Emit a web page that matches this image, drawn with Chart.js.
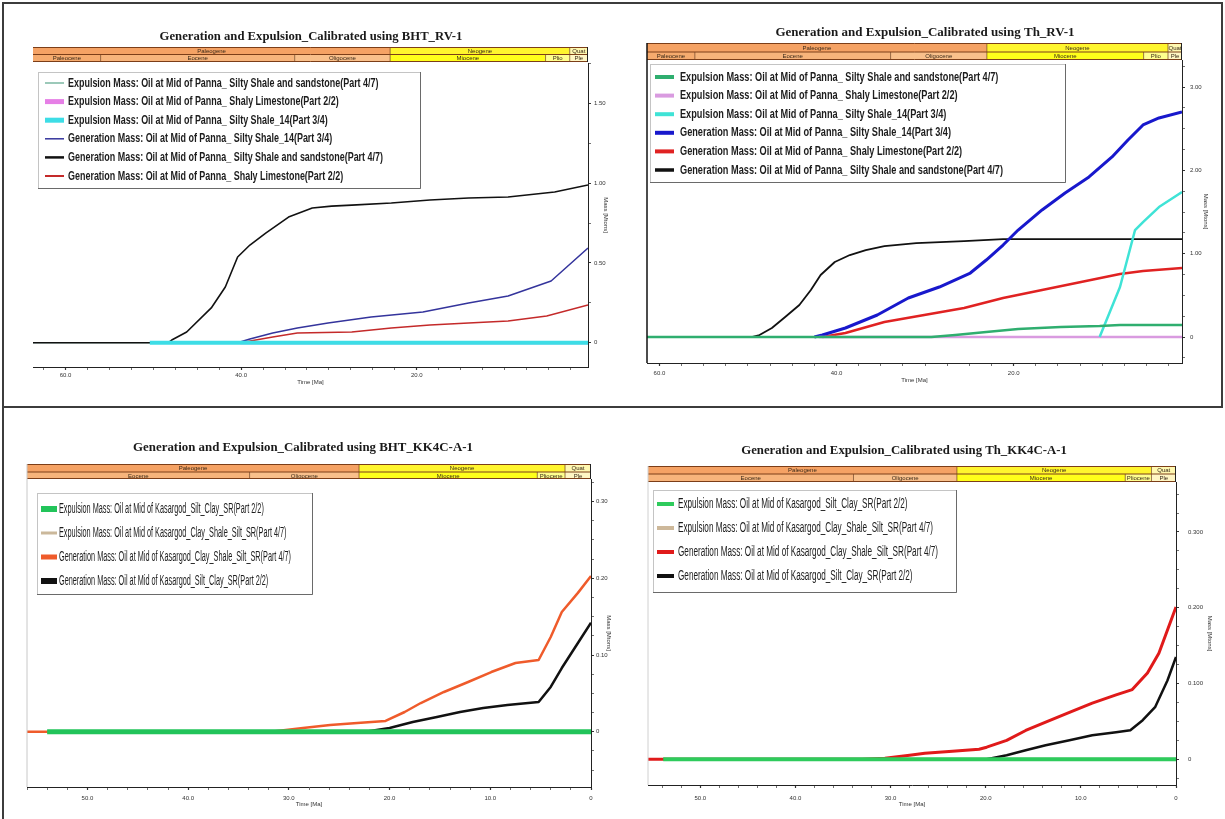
<!DOCTYPE html>
<html>
<head>
<meta charset="utf-8">
<title>Generation and Expulsion</title>
<script src="https://cdn.jsdelivr.net/npm/chart.js@4.4.1/dist/chart.umd.min.js"></script>
<style>
  html, body { margin: 0; padding: 0; background: #fff; }
  #page { position: relative; width: 1225px; height: 819px; overflow: hidden; background: #fff; }
  canvas { position: absolute; display: block; }
  .frame-top { position: absolute; left: 2px; top: 2px; width: 1221px; height: 406px; box-sizing: border-box; border: 2px solid #3c3c3c; pointer-events: none; }
  .frame-left { position: absolute; left: 2px; top: 408px; width: 2px; height: 411px; background: #3c3c3c; pointer-events: none; }
</style>
</head>
<body>
<div id="page">
  <canvas id="bhtRv1" width="612" height="408" style="left:0;top:0"></canvas>
  <canvas id="thRv1" width="613" height="408" style="left:612px;top:0"></canvas>
  <canvas id="bhtKk4c" width="612" height="411" style="left:0;top:408px"></canvas>
  <canvas id="thKk4c" width="613" height="411" style="left:612px;top:408px"></canvas>
  <div class="frame-top"></div>
  <div class="frame-left"></div>
</div>
<script>
// ---------------- Geological time scale (Ma) ----------------
const PERIOD_NAMES  = ['Paleogene', 'Neogene', 'Quaternary'];
const PERIOD_SHORT  = ['Paleog.', 'Neog.', 'Quat'];
const PERIOD_BASE   = [66.0, 23.03, 2.58];
const PERIOD_TOP    = [23.03, 2.58, 0];
const PERIOD_COLORS = ['#f5a264', '#fff52e', '#fff8b0'];

const EPOCH_NAMES  = ['Paleocene', 'Eocene', 'Oligocene', 'Miocene', 'Pliocene', 'Pleistocene'];
const EPOCH_SHORT  = ['Paleoc.', 'Eoc.', 'Olig.', 'Mio.', 'Plio', 'Ple'];
const EPOCH_BASE   = [66.0, 56.0, 33.9, 23.03, 5.333, 2.58];
const EPOCH_TOP    = [56.0, 33.9, 23.03, 5.333, 2.58, 0];
const EPOCH_COLORS = ['#f6ab6e', '#f7b47b', '#f9c08b', '#ffff1a', '#ffff8e', '#fff6c4'];

// ---------------- Panna source rocks, BHT calibration (RV-1) ----------------
const BHT_RV1_EXP_SSS_T = [63.7, 0.5];
const BHT_RV1_EXP_SSS_V = [0, 0];
const BHT_RV1_EXP_SL_T  = [40.1, 0.5];
const BHT_RV1_EXP_SL_V  = [0, 0];
const BHT_RV1_EXP_S14_T = [50.4, 0.5];
const BHT_RV1_EXP_S14_V = [0, 0];
const BHT_RV1_GEN_S14_T = [40.4, 39.0, 36.4, 33.6, 30.1, 25.2, 19.3, 14.1, 9.6, 4.7, 0.5];
const BHT_RV1_GEN_S14_V = [0, 0.023, 0.061, 0.092, 0.124, 0.161, 0.192, 0.249, 0.293, 0.387, 0.593];
const BHT_RV1_GEN_SSS_T = [63.7, 48.3, 47.9, 46.2, 43.4, 41.8, 40.4, 39.0, 37.2, 34.6, 31.9, 29.7, 27.4, 22.9, 18.5, 14.1, 9.6, 4.3, 0.5];
const BHT_RV1_GEN_SSS_V = [0, 0, 0.017, 0.067, 0.218, 0.349, 0.537, 0.612, 0.687, 0.787, 0.844, 0.856, 0.862, 0.875, 0.894, 0.907, 0.913, 0.944, 0.988];
const BHT_RV1_GEN_SL_T  = [40.1, 36.4, 33.6, 27.4, 22.9, 18.5, 14.1, 9.6, 5.2, 0.5];
const BHT_RV1_GEN_SL_V  = [0, 0.036, 0.061, 0.067, 0.092, 0.111, 0.124, 0.136, 0.167, 0.236];

// ---------------- Panna source rocks, Th calibration (RV-1) ----------------
const TH_RV1_EXP_SSS_T = [61.4, 29.3, 26.6, 23.1, 19.5, 14.7, 10.3, 8.0, 1.0];
const TH_RV1_EXP_SSS_V = [0, 0, 0.024, 0.06, 0.096, 0.12, 0.132, 0.144, 0.144];
const TH_RV1_EXP_SL_T  = [42.0, 1.0];
const TH_RV1_EXP_SL_V  = [0, 0];
const TH_RV1_EXP_S14_T = [10.3, 8.0, 6.3, 5.4, 3.6, 1.0];
const TH_RV1_EXP_S14_V = [0, 0.60, 1.284, 1.38, 1.56, 1.74];
const TH_RV1_GEN_S14_T = [42.5, 41.6, 39.0, 35.4, 31.9, 28.4, 24.9, 23.1, 21.2, 19.5, 16.8, 14.2, 11.5, 8.9, 7.1, 5.4, 3.6, 1.0];
const TH_RV1_GEN_S14_V = [0, 0.024, 0.108, 0.264, 0.468, 0.60, 0.768, 0.924, 1.104, 1.284, 1.525, 1.729, 1.921, 2.161, 2.365, 2.545, 2.629, 2.701];
const TH_RV1_GEN_SL_T  = [41.6, 39.0, 34.6, 30.1, 25.6, 21.2, 16.8, 12.4, 8.0, 5.4, 1.0];
const TH_RV1_GEN_SL_V  = [0, 0.048, 0.18, 0.264, 0.348, 0.468, 0.564, 0.66, 0.756, 0.792, 0.828];
const TH_RV1_GEN_SSS_T = [49.6, 48.7, 47.3, 45.8, 44.2, 42.9, 41.8, 40.2, 38.5, 36.7, 34.6, 31.0, 25.6, 21.2, 1.0];
const TH_RV1_GEN_SSS_V = [0, 0.024, 0.108, 0.24, 0.384, 0.564, 0.744, 0.90, 0.984, 1.044, 1.092, 1.128, 1.152, 1.176, 1.176];

// ---------------- Kasargod source rocks, BHT calibration (KK4C-A-1) ----------------
const BHT_KK_EXP_SCS_T  = [54.0, 0];
const BHT_KK_EXP_SCS_V  = [0, 0];
const BHT_KK_EXP_CSSS_T = [54.0, 0];
const BHT_KK_EXP_CSSS_V = [0, 0];
const BHT_KK_GEN_CSSS_T = [56.0, 31.8, 28.6, 25.9, 23.2, 20.4, 18.5, 16.9, 14.6, 12.2, 9.9, 7.5, 5.2, 4.0, 2.9, 1.3, 0];
const BHT_KK_GEN_CSSS_V = [0, 0, 0.0048, 0.0087, 0.0113, 0.014, 0.0257, 0.0374, 0.0518, 0.0648, 0.0778, 0.0896, 0.0935, 0.1235, 0.156, 0.181, 0.203];
const BHT_KK_GEN_SCS_T  = [22.4, 20.0, 17.7, 15.3, 13.0, 10.7, 8.3, 5.2, 4.0, 2.9, 1.3, 0];
const BHT_KK_GEN_SCS_V  = [0, 0.0048, 0.0126, 0.0192, 0.0257, 0.0309, 0.0348, 0.0387, 0.0583, 0.083, 0.1156, 0.142];

// ---------------- Kasargod source rocks, Th calibration (KK4C-A-1) ----------------
const TH_KK_EXP_SCS_T  = [53.9, 0];
const TH_KK_EXP_SCS_V  = [0, 0];
const TH_KK_EXP_CSSS_T = [53.9, 0];
const TH_KK_EXP_CSSS_V = [0, 0];
const TH_KK_GEN_CSSS_T = [55.5, 33.0, 30.6, 28.0, 26.4, 23.5, 20.7, 19.9, 17.8, 15.8, 13.7, 11.2, 8.8, 6.3, 4.6, 3.0, 1.8, 0];
const TH_KK_GEN_CSSS_V = [0, 0, 0.0013, 0.0053, 0.0079, 0.0106, 0.0132, 0.0159, 0.025, 0.038, 0.049, 0.062, 0.074, 0.085, 0.092, 0.114, 0.140, 0.201];
const TH_KK_GEN_SCS_T  = [19.9, 17.8, 15.8, 13.7, 11.2, 8.8, 6.3, 4.8, 3.5, 2.2, 0.9, 0];
const TH_KK_GEN_SCS_V  = [0, 0.0053, 0.0119, 0.0185, 0.025, 0.0317, 0.0357, 0.0383, 0.0515, 0.0687, 0.104, 0.135];

// ---------------- Axis ticks ----------------
const RV1_X_MAJOR  = [60, 40, 20];
const RV1_X_LABELS = ['60.0', '40.0', '20.0'];
const KK_X_MAJOR   = [50, 40, 30, 20, 10, 0];
const KK_X_LABELS  = ['50.0', '40.0', '30.0', '20.0', '10.0', '0'];
const BHT_RV1_Y_MAJOR  = [0, 0.5, 1.0, 1.5];
const BHT_RV1_Y_LABELS = ['0', '0.50', '1.00', '1.50'];
const TH_RV1_Y_MAJOR   = [0, 1, 2, 3];
const TH_RV1_Y_LABELS  = ['0', '1.00', '2.00', '3.00'];
const BHT_KK_Y_MAJOR   = [0, 0.1, 0.2, 0.3];
const BHT_KK_Y_LABELS  = ['0', '0.10', '0.20', '0.30'];
const TH_KK_Y_MAJOR    = [0, 0.1, 0.2, 0.3];
const TH_KK_Y_LABELS   = ['0', '0.100', '0.200', '0.300'];

const SANS = '"Liberation Sans", Arial, Helvetica, sans-serif';
const SERIF = '"Liberation Serif", "Times New Roman", Times, serif';

function pts(T, V) { return T.map((t, i) => ({ x: t, y: V[i] })); }

function series(label, T, V, color, width, legendWidth, order) {
  return {
    label, data: pts(T, V), borderColor: color, backgroundColor: color,
    borderWidth: width, legendWidth, order,
    pointRadius: 0, pointHoverRadius: 0, fill: false, tension: 0,
    borderJoinStyle: 'round', borderCapStyle: 'butt'
  };
}

function tickList(step, lo, hi, major) {
  const out = [];
  const n0 = Math.ceil(lo / step - 1e-9), n1 = Math.floor(hi / step + 1e-9);
  for (let n = n0; n <= n1; n++) out.push(+(n * step).toFixed(6));
  major.forEach(m => { if (!out.some(v => Math.abs(v - m) < 1e-6)) out.push(m); });
  return out.sort((a, b) => a - b);
}

function labelFor(v, major, labels) {
  for (let i = 0; i < major.length; i++) if (Math.abs(v - major[i]) < 1e-6) return labels[i];
  return '';
}

// Per-canvas decoration: title, stratigraphic bar, legend box, frame
const DECOR = {};

function drawStratRow(c, xs, a, y0, y1, names, shorts, base, top, colors, labelRow) {
  c.save();
  c.beginPath(); c.rect(a.left, y0, a.right - a.left, y1 - y0); c.clip();
  for (let i = 0; i < names.length; i++) {
    let xL = xs.getPixelForValue(base[i]);
    let xR = xs.getPixelForValue(top[i]);
    xL = Math.max(xL, a.left); xR = Math.min(xR, a.right);
    if (xR <= xL) continue;
    c.fillStyle = colors[i];
    c.fillRect(xL, y0, xR - xL, y1 - y0);
    if (xL > a.left + 0.5) {
      c.strokeStyle = 'rgba(105,55,20,0.85)'; c.lineWidth = 0.8;
      c.beginPath(); c.moveTo(xL, y0); c.lineTo(xL, y1); c.stroke();
    }
    c.font = '6px ' + SANS;
    c.fillStyle = '#3a2a1a'; c.textAlign = 'center'; c.textBaseline = 'middle';
    const room = xR - xL - 2;
    let txt = names[i];
    if (c.measureText(txt).width > room) txt = shorts[i];
    if (c.measureText(txt).width <= room + 3) c.fillText(txt, (xL + xR) / 2, (y0 + y1) / 2 + 0.5);
  }
  c.restore();
}

const panelDecor = {
  id: 'panelDecor',
  beforeDraw(chart) {
    const c = chart.ctx;
    c.save(); c.fillStyle = '#fff'; c.fillRect(0, 0, chart.width, chart.height); c.restore();
  },
  afterDraw(chart) {
    const d = DECOR[chart.canvas.id];
    const c = chart.ctx, a = chart.chartArea, xs = chart.scales.x;

    // title
    c.save();
    c.fillStyle = '#1a1a1a'; c.textAlign = 'center'; c.textBaseline = 'middle';
    c.font = 'bold 12px ' + SERIF;
    const fs = 12 * d.titleWidth / c.measureText(d.title).width;
    c.font = 'bold ' + fs.toFixed(2) + 'px ' + SERIF;
    c.fillText(d.title, d.titleX, d.titleY);
    c.restore();

    // stratigraphic bar
    const [s0, s1, s2] = d.strat;
    drawStratRow(c, xs, a, s0, s1, PERIOD_NAMES, PERIOD_SHORT, PERIOD_BASE, PERIOD_TOP, PERIOD_COLORS);
    drawStratRow(c, xs, a, s1, s2, EPOCH_NAMES, EPOCH_SHORT, EPOCH_BASE, EPOCH_TOP, EPOCH_COLORS);
    c.save();
    c.strokeStyle = '#7c3e18'; c.lineWidth = 1;
    c.beginPath();
    c.moveTo(a.left, s0 + 0.5); c.lineTo(a.right, s0 + 0.5);
    c.moveTo(a.left, s1); c.lineTo(a.right, s1);
    c.moveTo(a.left, s2 - 0.5); c.lineTo(a.right, s2 - 0.5);
    c.stroke();
    c.strokeStyle = '#222';
    c.beginPath(); c.moveTo(a.right - 0.5, s0); c.lineTo(a.right - 0.5, s2); c.stroke();
    c.restore();

    // plot frame
    if (d.leftLine) {
      c.save(); c.strokeStyle = d.leftLine; c.lineWidth = d.leftLineWidth || 1;
      c.beginPath(); c.moveTo(a.left, s0); c.lineTo(a.left, a.bottom); c.stroke(); c.restore();
    }

    // legend
    const L = d.legend, b = L.box;
    c.save();
    c.fillStyle = '#fff'; c.fillRect(b.x, b.y, b.w, b.h);
    c.strokeStyle = '#c4c4c4'; c.lineWidth = 1;
    c.strokeRect(b.x + 0.5, b.y + 0.5, b.w, b.h);
    c.strokeStyle = '#6a6a6a';
    c.beginPath();
    c.moveTo(b.x, b.y + b.h + 0.5); c.lineTo(b.x + b.w + 0.5, b.y + b.h + 0.5);
    c.lineTo(b.x + b.w + 0.5, b.y);
    c.stroke();
    c.font = L.font; c.textBaseline = 'middle'; c.textAlign = 'left'; c.fillStyle = '#1c1c1c';
    const ds = chart.data.datasets;
    const sx = L.textWidth / c.measureText(ds[L.fitIndex].label).width;
    ds.forEach((s, i) => {
      const y = b.y + L.first + i * L.step;
      c.strokeStyle = s.borderColor; c.lineWidth = s.legendWidth; c.lineCap = 'butt';
      c.beginPath(); c.moveTo(b.x + L.sample[0], y); c.lineTo(b.x + L.sample[1], y); c.stroke();
      c.save(); c.translate(b.x + L.textX, y); c.scale(sx, 1); c.fillText(s.label, 0, 0); c.restore();
    });
    c.restore();
  }
};

function makeChart(id, cfg) {
  DECOR[id] = cfg.decor;
  const xTicks = tickList(cfg.xMinorStep, cfg.xMin, cfg.xMax, cfg.xMajor);
  const yTicks = tickList(cfg.yMinorStep, cfg.yMin, cfg.yMax, cfg.yMajor);
  const axisFont = { family: SANS, size: 6 };
  return new Chart(document.getElementById(id), {
    type: 'line',
    data: { datasets: cfg.datasets },
    options: {
      responsive: false, animation: false, devicePixelRatio: 1, events: [],
      layout: { autoPadding: false, padding: { left: cfg.area.left, top: cfg.area.top, right: 0, bottom: 0 } },
      plugins: { legend: { display: false }, title: { display: false }, tooltip: { enabled: false } },
      scales: {
        x: {
          type: 'linear', position: 'bottom', reverse: true, min: cfg.xMin, max: cfg.xMax,
          afterFit: s => { s.height = cfg.xAxisH; },
          afterBuildTicks: s => { s.ticks = xTicks.map(v => ({ value: v })); },
          ticks: {
            autoSkip: false, maxRotation: 0, minRotation: 0, padding: cfg.xTickPad,
            font: axisFont, color: '#333',
            callback: v => labelFor(v, cfg.xMajor, cfg.xLabels)
          },
          grid: {
            display: true, drawOnChartArea: false, drawTicks: true, tickLength: 3,
            tickColor: '#333',
            tickWidth: c => (labelFor(c.tick.value, cfg.xMajor, cfg.xLabels) ? 1.2 : 0.7)
          },
          border: { display: true, color: '#222', width: 1 },
          title: { display: true, text: 'Time [Ma]', font: axisFont, color: '#333', padding: { top: 0, bottom: cfg.xTitlePad } }
        },
        y: {
          type: 'linear', position: 'right', min: cfg.yMin, max: cfg.yMax,
          afterFit: s => { s.width = cfg.yAxisW; },
          afterBuildTicks: s => { s.ticks = yTicks.map(v => ({ value: v })); },
          ticks: {
            autoSkip: false, padding: cfg.yTickPad, font: axisFont, color: '#333',
            callback: v => labelFor(v, cfg.yMajor, cfg.yLabels)
          },
          grid: {
            display: true, drawOnChartArea: false, drawTicks: true, tickLength: 3,
            tickColor: '#333',
            tickWidth: c => (labelFor(c.tick.value, cfg.yMajor, cfg.yLabels) ? 1.2 : 0.7)
          },
          border: { display: true, color: '#222', width: 1 },
          title: { display: true, text: 'Mass [Mtons]', font: axisFont, color: '#333', padding: { top: cfg.yTitlePad, bottom: 0 } }
        }
      }
    },
    plugins: [panelDecor]
  });
}

const PANNA_EXP = 'Expulsion Mass: Oil at Mid of Panna_ ';
const PANNA_GEN = 'Generation Mass: Oil at Mid of Panna_ ';
const KAS_EXP = 'Expulsion Mass: Oil at Mid of Kasargod_';
const KAS_GEN = 'Generation Mass: Oil at Mid of Kasargod_';

// Top-left: BHT calibration, RV-1
makeChart('bhtRv1', {
  area: { left: 33, top: 63 }, xAxisH: 41, yAxisW: 24,
  xMin: 0.5, xMax: 63.7, xMinorStep: 2.5, xMajor: RV1_X_MAJOR, xLabels: RV1_X_LABELS,
  yMin: -0.152, yMax: 1.7525, yMinorStep: 0.25, yMajor: BHT_RV1_Y_MAJOR, yLabels: BHT_RV1_Y_LABELS,
  xTickPad: 1.4, xTitlePad: 22.4, yTickPad: 3, yTitlePad: 2.4,
  datasets: [
    series(PANNA_EXP + 'Silty Shale and sandstone(Part 4/7)', BHT_RV1_EXP_SSS_T, BHT_RV1_EXP_SSS_V, '#5aa58a', 1, 1.2, 4),
    series(PANNA_EXP + 'Shaly Limestone(Part 2/2)', BHT_RV1_EXP_SL_T, BHT_RV1_EXP_SL_V, '#e67fe6', 3, 5, 5),
    series(PANNA_EXP + 'Silty Shale_14(Part 3/4)', BHT_RV1_EXP_S14_T, BHT_RV1_EXP_S14_V, '#3ddde6', 4, 5, 0),
    series(PANNA_GEN + 'Silty Shale_14(Part 3/4)', BHT_RV1_GEN_S14_T, BHT_RV1_GEN_S14_V, '#34349c', 1.5, 1.5, 2),
    series(PANNA_GEN + 'Silty Shale and sandstone(Part 4/7)', BHT_RV1_GEN_SSS_T, BHT_RV1_GEN_SSS_V, '#111111', 1.6, 2.5, 1),
    series(PANNA_GEN + 'Shaly Limestone(Part 2/2)', BHT_RV1_GEN_SL_T, BHT_RV1_GEN_SL_V, '#c42a2a', 1.5, 2, 3)
  ],
  decor: {
    title: 'Generation and Expulsion_Calibrated using BHT_RV-1', titleX: 311, titleY: 37, titleWidth: 303,
    strat: [47, 54.5, 62],
    legend: { box: { x: 38, y: 72, w: 382, h: 116 }, first: 11, step: 18.6, sample: [7, 26], textX: 30,
              font: 'bold 13px ' + SANS, fitIndex: 4, textWidth: 315 }
  }
});

// Top-right: Th calibration, RV-1
makeChart('thRv1', {
  area: { left: 35, top: 60 }, xAxisH: 45, yAxisW: 43,
  xMin: 1.0, xMax: 61.4, xMinorStep: 2.5, xMajor: RV1_X_MAJOR, xLabels: RV1_X_LABELS,
  yMin: -0.312, yMax: 3.325, yMinorStep: 0.25, yMajor: TH_RV1_Y_MAJOR, yLabels: TH_RV1_Y_LABELS,
  xTickPad: 3.4, xTitlePad: 24.4, yTickPad: 5, yTitlePad: 15.4,
  datasets: [
    series(PANNA_EXP + 'Silty Shale and sandstone(Part 4/7)', TH_RV1_EXP_SSS_T, TH_RV1_EXP_SSS_V, '#2fae6f', 2.5, 4, 0),
    series(PANNA_EXP + 'Shaly Limestone(Part 2/2)', TH_RV1_EXP_SL_T, TH_RV1_EXP_SL_V, '#d99be0', 2.5, 4, 2),
    series(PANNA_EXP + 'Silty Shale_14(Part 3/4)', TH_RV1_EXP_S14_T, TH_RV1_EXP_S14_V, '#3fe3d6', 2.5, 4, 1),
    series(PANNA_GEN + 'Silty Shale_14(Part 3/4)', TH_RV1_GEN_S14_T, TH_RV1_GEN_S14_V, '#1818cc', 3, 4, 3),
    series(PANNA_GEN + 'Shaly Limestone(Part 2/2)', TH_RV1_GEN_SL_T, TH_RV1_GEN_SL_V, '#e02222', 2.5, 4, 4),
    series(PANNA_GEN + 'Silty Shale and sandstone(Part 4/7)', TH_RV1_GEN_SSS_T, TH_RV1_GEN_SSS_V, '#111111', 1.8, 3.5, 5)
  ],
  decor: {
    title: 'Generation and Expulsion_Calibrated using Th_RV-1', titleX: 313, titleY: 33, titleWidth: 299,
    strat: [43, 52, 60], leftLine: '#111', leftLineWidth: 1.5,
    legend: { box: { x: 38, y: 64, w: 415, h: 118 }, first: 13, step: 18.6, sample: [5, 24], textX: 30,
              font: 'bold 13px ' + SANS, fitIndex: 5, textWidth: 323 }
  }
});

// Bottom-left: BHT calibration, KK4C-A-1
makeChart('bhtKk4c', {
  area: { left: 27, top: 71 }, xAxisH: 32, yAxisW: 21,
  xMin: 0, xMax: 56.0, xMinorStep: 2, xMajor: KK_X_MAJOR, xLabels: KK_X_LABELS,
  yMin: -0.0721, yMax: 0.3295, yMinorStep: 0.025, yMajor: BHT_KK_Y_MAJOR, yLabels: BHT_KK_Y_LABELS,
  xTickPad: 4.4, xTitlePad: 11.4, yTickPad: 2, yTitlePad: 0,
  datasets: [
    series(KAS_EXP + 'Silt_Clay_SR(Part 2/2)', BHT_KK_EXP_SCS_T, BHT_KK_EXP_SCS_V, '#22c45a', 5, 6, 0),
    series(KAS_EXP + 'Clay_Shale_Silt_SR(Part 4/7)', BHT_KK_EXP_CSSS_T, BHT_KK_EXP_CSSS_V, '#cbb89b', 3, 3, 3),
    series(KAS_GEN + 'Clay_Shale_Silt_SR(Part 4/7)', BHT_KK_GEN_CSSS_T, BHT_KK_GEN_CSSS_V, '#ef5b2b', 2.5, 5, 1),
    series(KAS_GEN + 'Silt_Clay_SR(Part 2/2)', BHT_KK_GEN_SCS_T, BHT_KK_GEN_SCS_V, '#111111', 2.5, 6, 2)
  ],
  decor: {
    title: 'Generation and Expulsion_Calibrated using BHT_KK4C-A-1', titleX: 303, titleY: 40, titleWidth: 340,
    strat: [56, 64, 71], leftLine: '#c8c8c8', leftLineWidth: 1,
    legend: { box: { x: 37, y: 85, w: 275, h: 101 }, first: 16, step: 24, sample: [4, 20], textX: 22,
              font: '14px ' + SANS, fitIndex: 2, textWidth: 232 }
  }
});

// Bottom-right: Th calibration, KK4C-A-1
makeChart('thKk4c', {
  area: { left: 36, top: 74 }, xAxisH: 34, yAxisW: 49,
  xMin: 0, xMax: 55.5, xMinorStep: 2, xMajor: KK_X_MAJOR, xLabels: KK_X_LABELS,
  yMin: -0.034, yMax: 0.366, yMinorStep: 0.025, yMajor: TH_KK_Y_MAJOR, yLabels: TH_KK_Y_LABELS,
  xTickPad: 6.4, xTitlePad: 11.4, yTickPad: 9, yTitlePad: 11.4,
  datasets: [
    series(KAS_EXP + 'Silt_Clay_SR(Part 2/2)', TH_KK_EXP_SCS_T, TH_KK_EXP_SCS_V, '#2ecb5c', 4, 4, 0),
    series(KAS_EXP + 'Clay_Shale_Silt_SR(Part 4/7)', TH_KK_EXP_CSSS_T, TH_KK_EXP_CSSS_V, '#cdb89a', 3, 4, 3),
    series(KAS_GEN + 'Clay_Shale_Silt_SR(Part 4/7)', TH_KK_GEN_CSSS_T, TH_KK_GEN_CSSS_V, '#e01a1a', 3, 4, 1),
    series(KAS_GEN + 'Silt_Clay_SR(Part 2/2)', TH_KK_GEN_SCS_T, TH_KK_GEN_SCS_V, '#111111', 2.5, 4, 2)
  ],
  decor: {
    title: 'Generation and Expulsion_Calibrated using Th_KK4C-A-1', titleX: 292, titleY: 43, titleWidth: 326,
    strat: [58, 66, 74], leftLine: '#d0d0d0', leftLineWidth: 1,
    legend: { box: { x: 41, y: 82, w: 303, h: 102 }, first: 14, step: 24, sample: [4, 21], textX: 25,
              font: '14px ' + SANS, fitIndex: 2, textWidth: 260 }
  }
});
</script>
</body>
</html>
